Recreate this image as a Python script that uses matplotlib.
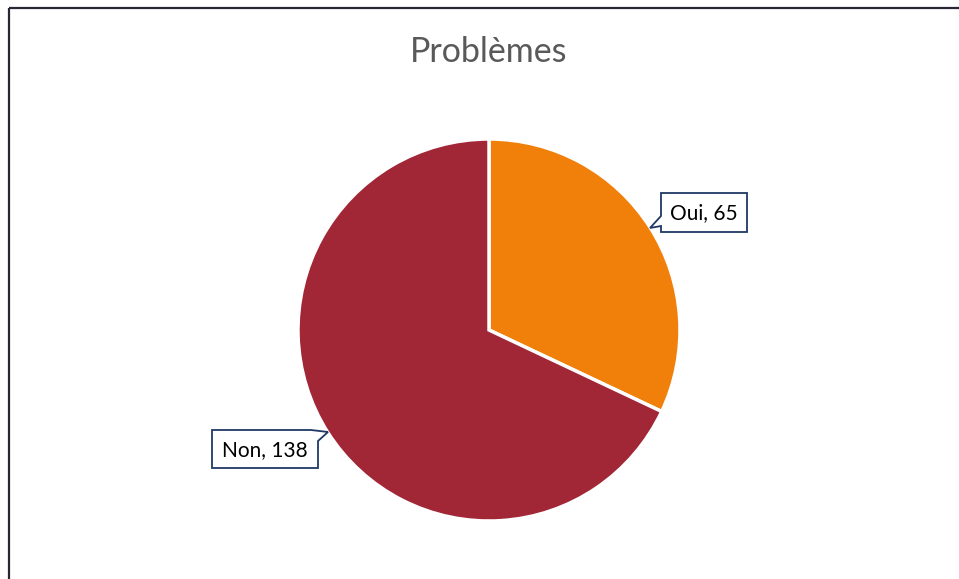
import matplotlib
matplotlib.use("Agg")
import matplotlib.pyplot as plt
from matplotlib.patches import Polygon

# data
labels = ["Oui", "Non"]
values = [65, 138]
colors = ["#F0800A", "#A12736"]
title = "Problèmes"

W, H = 959, 579
fig = plt.figure(figsize=(W / 100, H / 100), dpi=100)
ax = fig.add_axes([0, 0, 1, 1])
ax.set_xlim(0, W)
ax.set_ylim(0, H)
ax.set_aspect("equal")
ax.axis("off")

# pie (center/radius in pixel units, y measured from the bottom)
ax.pie(values, colors=colors, startangle=90, counterclock=False,
       center=(489, H - 330), radius=191,
       wedgeprops=dict(edgecolor="white", linewidth=2.5))
ax.set_xlim(0, W)
ax.set_ylim(0, H)

ax.text(489, H - 62, title, ha="center", va="baseline", fontsize=24.5,
        color="#595959", family=["Lato", "DejaVu Sans"])


def callout(shape, text_xy, text):
    pts = [(x, H - y) for x, y in shape]
    ax.add_patch(Polygon(pts, closed=True, facecolor="white",
                         edgecolor="#1F3864", linewidth=1.3, zorder=5))
    ax.text(text_xy[0], H - text_xy[1], text, ha="center", va="center",
            fontsize=15, color="black", zorder=6,
            family=["Lato", "DejaVu Sans"])


# callout outlines (box + small tail pointing at the slice)
callout([(661, 193), (747, 193), (747, 232), (661, 232), (661, 226),
         (650, 228), (661, 216)], (704, 213), f"{labels[0]}, {values[0]}")
callout([(212, 430), (311, 430), (328, 432), (318, 441), (318, 468),
         (212, 468)], (265, 450), f"{labels[1]}, {values[1]}")

# chart frame (only left and top edges visible)
ax.plot([8.5, 8.5], [-5, H - 7.5], color="#2B2535", linewidth=1.6,
        clip_on=False, solid_capstyle="butt")
ax.plot([8.5, W + 5], [H - 7.5, H - 7.5], color="#2B2535", linewidth=1.6,
        clip_on=False, solid_capstyle="butt")

plt.savefig("out.png", dpi=100)
